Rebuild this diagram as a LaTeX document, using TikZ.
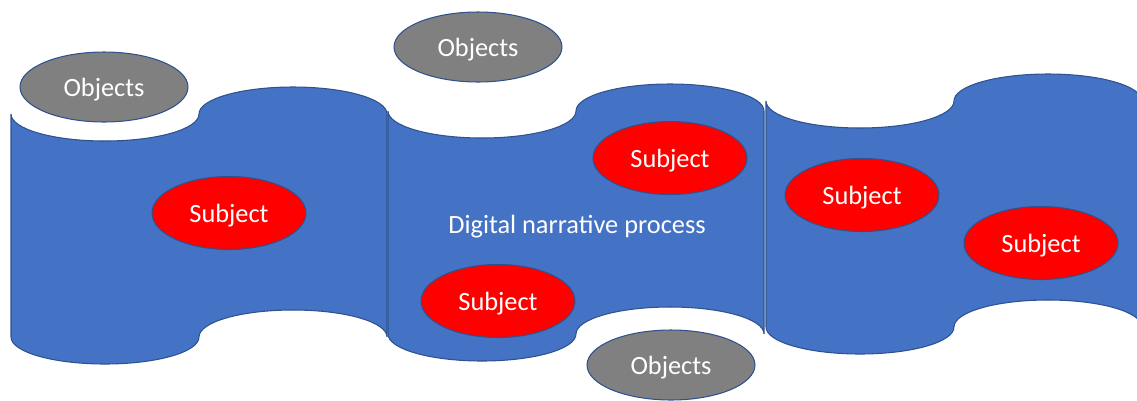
\documentclass[tikz,border=0pt]{standalone}
\usepackage{fontspec}
\setmainfont{Carlito}
\usetikzlibrary{shapes.geometric}
\definecolor{tapeblue}{HTML}{4472C4}
\definecolor{edgeblue}{HTML}{2F528F}
\definecolor{objgray}{HTML}{808080}

\tikzset{
	tape/.style={fill=tapeblue, draw=edgeblue, line width=0.6pt},
	objects/.style={ellipse, fill=objgray, draw=edgeblue, line width=0.6pt, text=white, inner sep=0pt,
		minimum width=3.36cm, minimum height=1.4cm, text depth=0pt, font=\fontsize{15}{18}\selectfont},
	subject/.style={objects, fill=red, minimum width=3.08cm, minimum height=1.46cm}
}

% one strip of punched tape: #1,#2 top left corner, #3 height
\newcommand{\tapestrip}[3]{%
	\draw[tape, shift={(#1,#2)}] (0,0) .. controls (0,15) and (42,27) .. (94,27)
		.. controls (146,27) and (188,15) .. (188,0)
		.. controls (188,-15) and (230,-27) .. (282,-27)
		.. controls (334,-27) and (376,-15) .. (376,0)
		-- (376,#3)
		.. controls (376,{#3-15}) and (334,{#3-27}) .. (282,{#3-27})
		.. controls (230,{#3-27}) and (188,{#3-15}) .. (188,#3)
		.. controls (188,{#3+15}) and (146,{#3+27}) .. (94,{#3+27})
		.. controls (42,{#3+27}) and (0,{#3+15}) .. (0,#3) -- cycle;
}

\begin{document}
\begin{tikzpicture}[x=0.02cm, y=-0.02cm]
	\useasboundingbox (0,0) rectangle (1137,400);
	%%tape
	\tapestrip{11}{114}{223}
	\tapestrip{388}{111}{223}
	\tapestrip{766}{101}{226}
	%%nodes
	\node[objects] (obj1) at (104,87) {Objects};
	\node[objects] (obj2) at (478,47) {Objects};
	\node[objects] (obj3) at (671,365) {Objects};
	\node[subject] (subj1) at (229,213) {Subject};
	\node[subject] (subj2) at (670,158) {Subject};
	\node[subject] (subj3) at (498,301) {Subject};
	\node[subject] (subj4) at (862,195) {Subject};
	\node[subject] (subj5) at (1041,243) {Subject};
	\node[text=white, text depth=0pt, font=\fontsize{15}{18}\selectfont] (process) at (577,224) {Digital narrative process};
\end{tikzpicture}
\end{document}
